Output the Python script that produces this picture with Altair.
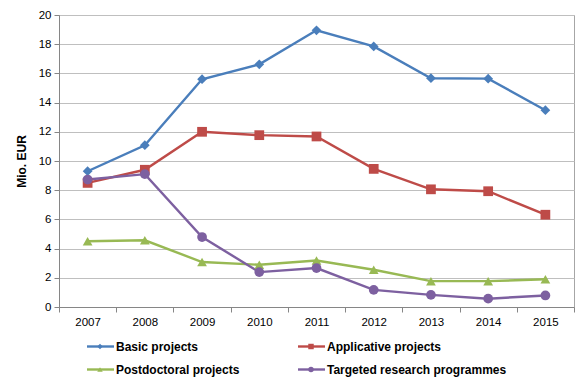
import altair as alt
import pandas as pd

years = ["2007", "2008", "2009", "2010", "2011", "2012", "2013", "2014", "2015"]
series = ["Basic projects", "Applicative projects", "Postdoctoral projects", "Targeted research programmes"]
basic = [9.3, 11.08, 15.6, 16.62, 18.95, 17.85, 15.67, 15.64, 13.48]
applicative = [8.5, 9.4, 12.0, 11.77, 11.68, 9.46, 8.06, 7.93, 6.32]
postdoctoral = [4.5, 4.57, 3.08, 2.89, 3.18, 2.55, 1.77, 1.77, 1.9]
targeted = [8.73, 9.1, 4.79, 2.39, 2.67, 1.17, 0.83, 0.57, 0.79]
colors = ["#4A7EBB", "#BE4B48", "#98B954", "#7D60A0"]
shapes = ["diamond", "square", "triangle-up", "circle"]
y_ticks = [0, 2, 4, 6, 8, 10, 12, 14, 16, 18, 20]

FONT = "Liberation Sans"

rows = []
for name, vals in zip(series, [basic, applicative, postdoctoral, targeted]):
    for yr, v in zip(years, vals):
        rows.append({"year": yr, "value": v, "series": name})
df = pd.DataFrame(rows)

color = alt.Color("series:N", scale=alt.Scale(domain=series, range=colors), legend=None)
shape = alt.Shape("series:N", scale=alt.Scale(domain=series, range=shapes), legend=None)

x = alt.X(
    "year:O",
    scale=alt.Scale(type="band", domain=years, paddingInner=0, paddingOuter=0),
    bandPosition=0.5,
    axis=alt.Axis(
        title=None, labelAngle=0, tickBand="extent", grid=False,
        domainColor="#868686", tickColor="#868686", tickSize=5,
        labelFont=FONT, labelFontSize=11.5, labelColor="#000000", labelPadding=4,
    ),
)
y = alt.Y(
    "value:Q",
    scale=alt.Scale(domain=[0, 20], nice=False),
    axis=alt.Axis(
        title="Mio. EUR", values=y_ticks, grid=True, gridColor="#bfbfbf",
        domainColor="#868686", tickColor="#868686", tickSize=5,
        labelFont=FONT, labelFontSize=11.5, labelColor="#000000", labelPadding=3,
        titleFont=FONT, titleFontSize=12, titleFontWeight="bold", titleColor="#000000",
        titlePadding=10,
    ),
)

base = alt.Chart(df).encode(x=x, y=y, color=color)
lines = base.mark_line(strokeWidth=2.4)
points = base.mark_point(filled=True, opacity=1, size=95).encode(shape=shape)

main = alt.layer(lines, points).properties(
    width=515, height=292,
    view=alt.ViewBackground(stroke="#a6a6a6", strokeWidth=1),
)

# legend built from series list
leg_col = [0, 1, 0, 1]
leg_row = [0, 0, 1, 1]
col_step = 211.0
ldf = pd.DataFrame({"series": series, "col": leg_col, "row": leg_row})
ldf["x0"] = ldf["col"] + 28 / col_step
ldf["x1"] = ldf["col"] + 55 / col_step
ldf["xm"] = ldf["col"] + 41 / col_step
ldf["xt"] = ldf["col"] + 57 / col_step

lx = alt.Scale(domain=[0, 515 / col_step], nice=False, zero=False)
ly = alt.Scale(domain=[-0.5, 1.5], nice=False, zero=False, reverse=True)
lbase = alt.Chart(ldf)
lrule = lbase.mark_rule(strokeWidth=2.4).encode(
    x=alt.X("x0:Q", scale=lx, axis=None), x2="x1:Q",
    y=alt.Y("row:Q", scale=ly, axis=None), color=color,
)
lpt = lbase.mark_point(filled=True, opacity=1, size=30).encode(
    x=alt.X("xm:Q", scale=lx, axis=None),
    y=alt.Y("row:Q", scale=ly, axis=None), color=color, shape=shape,
)
ltxt = lbase.mark_text(align="left", baseline="middle", font=FONT, fontSize=12, fontWeight="bold", color="#000000").encode(
    x=alt.X("xt:Q", scale=lx, axis=None),
    y=alt.Y("row:Q", scale=ly, axis=None), text="series:N",
)
legend = alt.layer(lrule, lpt, ltxt).properties(
    width=515, height=46,
    view=alt.ViewBackground(stroke="transparent"),
)

chart = alt.vconcat(main, legend, spacing=6).properties(
    padding={"left": 6, "top": 0, "right": 0, "bottom": 0},
    background="#ffffff",
)

chart.save("out.html", embed_options={"renderer": "svg", "actions": False})
